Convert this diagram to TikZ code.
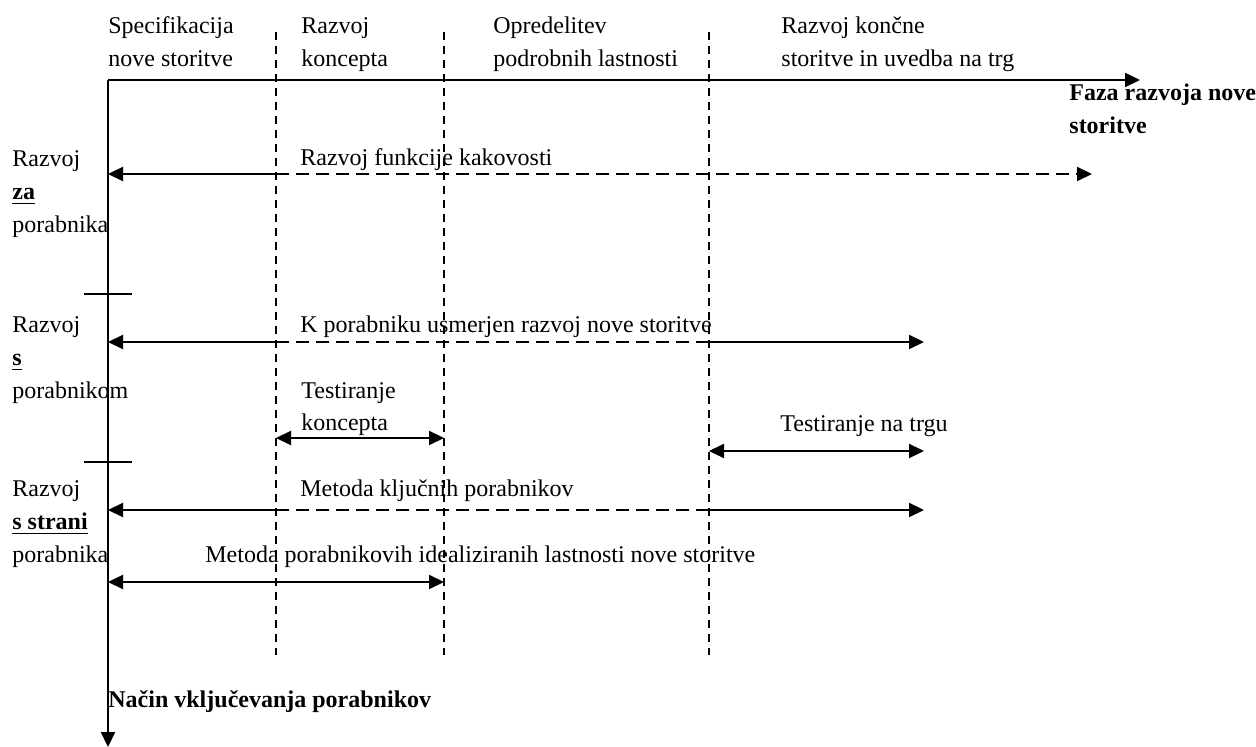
\documentclass[tikz,border=0pt]{standalone}
\usepackage{fontspec}
\setmainfont{Liberation Serif}
\usetikzlibrary{arrows.meta}
% bold, underlined group keyword
\newcommand{\keyword}[1]{\setbox0\hbox{\textbf{#1}}\leavevmode\rlap{\rule[-2.2pt]{\wd0}{0.9pt}}\box0}
\begin{document}
\begin{tikzpicture}[x=0.5pt,y=-0.5pt,
  head/.tip={Triangle[length=7.5pt,width=7pt]},
  tip/.style={-head},
  both/.style={head-head},
  axis/.style={line width=1.1pt},
  phase/.style={line width=0.65pt,dash pattern=on 4pt off 3pt},
  conn/.style={line width=1pt},
  dconn/.style={line width=1pt,dash pattern=on 6.5pt off 3.5pt},
  tickmark/.style={line width=0.9pt},
  lbl/.style={anchor=base west,inner sep=0pt,font=\fontsize{12pt}{16.5pt}\selectfont},
  blbl/.style={lbl,font=\fontsize{12pt}{16.5pt}\selectfont\bfseries}]
\useasboundingbox (0,0) rectangle (1256,747);

% axes
\coordinate (o) at (108,80);
\coordinate (xend) at (1140,80);
\coordinate (yend) at (108,747);
\draw[axis,tip] (o) -- (xend);
\draw[axis,tip] (o) -- (yend);

% phase boundaries
\foreach \n/\x in {p1/276,p2/444,p3/709}{
  \coordinate (\n t) at (\x,32);
  \coordinate (\n b) at (\x,655);
  \draw[phase] (\n t) -- (\n b);
}

% group separators on the vertical axis
\coordinate (s1a) at (84,294); \coordinate (s1b) at (132,294);
\coordinate (s2a) at (84,462); \coordinate (s2b) at (132,462);
\draw[tickmark] (s1a) -- (s1b);
\draw[tickmark] (s2a) -- (s2b);

% phase headings
\node[lbl] (h1a) at (108,34) {Specifikacija};
\node[lbl] (h1b) at (108,67) {nove storitve};
\node[lbl] (h2a) at (301,34) {Razvoj};
\node[lbl] (h2b) at (301,67) {koncepta};
\node[lbl] (h3a) at (493,34) {Opredelitev};
\node[lbl] (h3b) at (493,67) {podrobnih lastnosti};
\node[lbl] (h4a) at (781,34) {Razvoj končne};
\node[lbl] (h4b) at (781,67) {storitve in uvedba na trg};
\node[blbl] (xa) at (1069,101) {Faza razvoja nove};
\node[blbl] (xb) at (1069,134) {storitve};
\node[blbl] (ya) at (108,707) {Način vključevanja porabnikov};

% groups of involvement
\node[lbl] (g1a) at (12,167) {Razvoj};
\node[lbl] (g1b) at (12,200) {\keyword{za}};
\node[lbl] (g1c) at (12,233) {porabnika};
\node[lbl] (g2a) at (12,333) {Razvoj};
\node[lbl] (g2b) at (12,366) {\keyword{s}};
\node[lbl] (g2c) at (12,399) {porabnikom};
\node[lbl] (g3a) at (12,497) {Razvoj};
\node[lbl] (g3b) at (12,530) {\keyword{s strani}};
\node[lbl] (g3c) at (12,562) {porabnika};

% Razvoj funkcije kakovosti
\coordinate (r1l) at (108,174); \coordinate (r1m) at (276,174); \coordinate (r1r) at (1092,174);
\draw[conn,tip] (r1m) -- (r1l);
\draw[dconn,tip] (r1m) -- (r1r);
\node[lbl] (t1) at (300,166) {Razvoj funkcije kakovosti};

% K porabniku usmerjen razvoj nove storitve
\coordinate (r2l) at (108,342); \coordinate (r2m) at (276,342);
\coordinate (r2n) at (709,342); \coordinate (r2r) at (924,342);
\draw[conn,tip] (r2m) -- (r2l);
\draw[dconn] (r2m) -- (r2n);
\draw[conn,tip] (r2n) -- (r2r);
\node[lbl] (t2) at (300,333) {K porabniku usmerjen razvoj nove storitve};

% Testiranje koncepta
\coordinate (r3l) at (276,438); \coordinate (r3r) at (444,438);
\draw[conn,both] (r3l) -- (r3r);
\node[lbl] (t3a) at (301,399) {Testiranje};
\node[lbl] (t3b) at (301,431) {koncepta};

% Testiranje na trgu
\coordinate (r4l) at (709,451); \coordinate (r4r) at (924,451);
\draw[conn,both] (r4l) -- (r4r);
\node[lbl] (t4) at (780,432) {Testiranje na trgu};

% Metoda ključnih porabnikov
\coordinate (r5l) at (108,510); \coordinate (r5m) at (276,510);
\coordinate (r5n) at (709,510); \coordinate (r5r) at (924,510);
\draw[conn,tip] (r5m) -- (r5l);
\draw[dconn] (r5m) -- (r5n);
\draw[conn,tip] (r5n) -- (r5r);
\node[lbl] (t5) at (300,497) {Metoda ključnih porabnikov};

% Metoda porabnikovih idealiziranih lastnosti nove storitve
\coordinate (r6l) at (108,582); \coordinate (r6r) at (444,582);
\draw[conn,both] (r6l) -- (r6r);
\node[lbl] (t6) at (205,562) {Metoda porabnikovih idealiziranih lastnosti nove storitve};
\end{tikzpicture}
\end{document}
